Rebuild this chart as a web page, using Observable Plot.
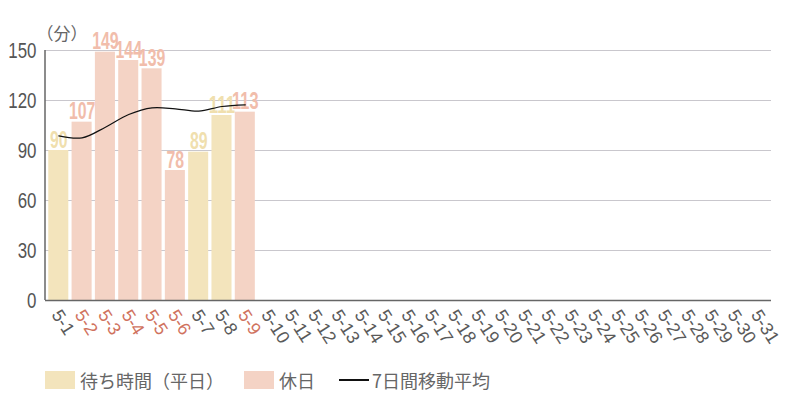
<!DOCTYPE html>
<html><head><meta charset="utf-8">
<script src="https://cdn.jsdelivr.net/npm/d3@7"></script>
<script src="https://cdn.jsdelivr.net/npm/@observablehq/plot@0.6"></script>
<style>
body{margin:0;background:#fff;}
#chart{width:800px;height:400px;position:relative;overflow:hidden;}
.legend{position:absolute;top:367px;left:45px;display:flex;align-items:center;font-family:"Noto Sans CJK JP",sans-serif;font-size:18px;color:#666;}
.sw{width:30px;height:18px;margin-right:5px;}
.ln{width:30px;height:2px;background:#111;margin-right:3px;}
.item{display:flex;align-items:center;margin-right:20px;}
</style>
</head><body>
<div id="chart"></div>
<script>
const days = ["5-1","5-2","5-3","5-4","5-5","5-6","5-7","5-8","5-9","5-10","5-11","5-12","5-13","5-14","5-15","5-16","5-17","5-18","5-19","5-20","5-21","5-22","5-23","5-24","5-25","5-26","5-27","5-28","5-29","5-30","5-31"];
const holidays = ["5-2","5-3","5-4","5-5","5-6","5-9"];
const dataDays = ["5-1","5-2","5-3","5-4","5-5","5-6","5-7","5-8","5-9"];
const waitValues = [90,107,149,144,139,78,89,111,113];
const dayTypes = ["平日","休日","休日","休日","休日","休日","平日","平日","休日"];
const movingAvg = [98.8,97.6,104,111.6,115.6,115,113.6,116.4,117.4];
const yTicks = [0,30,60,90,120,150];

const rows = dataDays.map((d,i)=>({day:d, value:waitValues[i], type:dayTypes[i], ma:movingAvg[i]}));
const barColor = {"平日":"#f3e4bc","休日":"#f4d3c5"};
const labelColor = {"平日":"#f0dfae","休日":"#f1bdab"};
const sans = "'Liberation Sans',sans-serif";

const leftLine = (index, scales, values, dimensions) => {
  const {marginLeft, marginTop, height, marginBottom} = dimensions;
  const g = d3.create("svg:g");
  g.append("line").attr("x1", marginLeft).attr("x2", marginLeft)
    .attr("y1", marginTop).attr("y2", height - marginBottom)
    .attr("stroke", "#666").attr("stroke-width", 1.5);
  return g.node();
};

const plot = Plot.plot({
  width: 800, height: 362,
  marginLeft: 45, marginRight: 29, marginTop: 50, marginBottom: 62,
  style: {background:"#fff", color:"#555", overflow:"visible"},
  x: {type:"band", domain: days, padding: 0.14, round: false, axis: null},
  y: {domain:[0,150], axis: null},
  marks: [
    Plot.gridY(yTicks.filter(t=>t>0), {stroke:"#c9c7cd", strokeOpacity:1}),
    Plot.axisY(yTicks, {tickSize:0, tickPadding:9, fontSize:22, fontFamily:sans, label:null, className:"ytk"}),
    Plot.barY(rows, {x:"day", y:"value", fill:d=>barColor[d.type]}),
    Plot.text(rows, {x:"day", y:"value", text:d=>String(d.value), lineAnchor:"bottom", dy:-3, fill:d=>labelColor[d.type], fontSize:23, fontWeight:"bold", fontFamily:sans, className:"blab"}),
    Plot.line(rows, {x:"day", y:"ma", curve:"catmull-rom", stroke:"#111", strokeWidth:1.2}),
    Plot.ruleY([0], {stroke:"#666", strokeWidth:1.5}),
    leftLine,
    Plot.text(days, {x:d=>d, frameAnchor:"bottom", text:d=>d, rotate:57, textAnchor:"start", lineAnchor:"middle", dx:-3, dy:11, fontSize:18, fontFamily:sans, fill:d=>holidays.includes(d)?"#d0725e":"#5a5a5a"}),
    Plot.text(["（分）"], {frameAnchor:"top-left", text:d=>d, textAnchor:"start", dx:-9, dy:-23, fontSize:17, fill:"#666", fontFamily:"'Noto Sans CJK JP',sans-serif"})
  ]
});
// condense number glyphs like the reference's narrow face
d3.select(plot).selectAll(".blab text").each(function(){
  const n = this.textContent.length;
  this.setAttribute("textLength", n*8.8);
  this.setAttribute("lengthAdjust","spacingAndGlyphs");
});
d3.select(plot).selectAll(".ytk text").each(function(){
  const n = this.textContent.length;
  this.setAttribute("textLength", n*9.4);
  this.setAttribute("lengthAdjust","spacingAndGlyphs");
});
const chart = document.getElementById("chart");
chart.appendChild(plot);
const legend = document.createElement("div");
legend.className = "legend";
legend.innerHTML = `<div class="item"><div class="sw" style="background:${barColor["平日"]}"></div>待ち時間（平日）</div>
<div class="item" style="margin-right:24px"><div class="sw" style="background:${barColor["休日"]}"></div>休日</div>
<div class="item"><div class="ln"></div>7日間移動平均</div>`;
chart.appendChild(legend);
</script>
</body></html>
